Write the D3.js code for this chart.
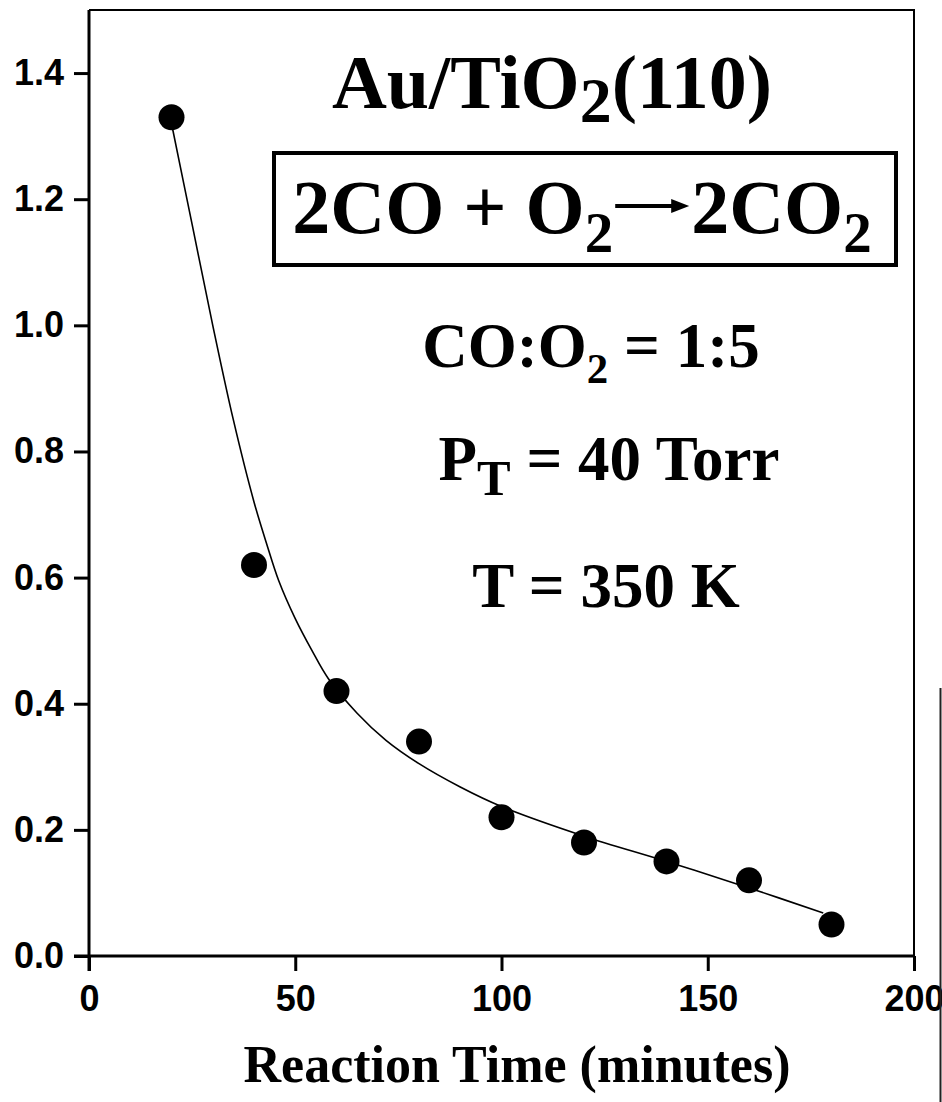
<!DOCTYPE html>
<html>
<head>
<meta charset="utf-8">
<script src="https://cdn.jsdelivr.net/npm/d3@7"></script>
<style>
  html, body { margin: 0; padding: 0; background: #fff; overflow: hidden; }
  svg { display: block; }
</style>
</head>
<body>
<div id="chart"></div>
<script>
// measured points
var timeMin = [20, 40, 60, 80, 100, 120, 140, 160, 180];
var rate = [1.33, 0.62, 0.42, 0.34, 0.22, 0.18, 0.15, 0.12, 0.05];

// fitted curve
var fitTime = [20, 25, 30, 35, 40, 43, 46, 50, 54, 58, 65, 72, 80, 90, 100, 120, 140, 160, 178];
var fitRate = [1.32, 1.16, 1.0, 0.85, 0.72, 0.655, 0.595, 0.535, 0.485, 0.44, 0.385, 0.342, 0.305, 0.268, 0.237, 0.19, 0.15, 0.108, 0.068];

var xTicks = [0, 50, 100, 150, 200];
var yTicks = [0, 0.2, 0.4, 0.6, 0.8, 1.0, 1.2, 1.4];

(function () {
    var W = 942, H = 1102;
    var p = {left: 89, right: 914, top: 10, bottom: 956, tick: 15};
    var serif = "'Liberation Serif', 'Times New Roman', serif";
    var sans = "'Liberation Sans', Arial, sans-serif";

    var svg = d3.select("#chart").append("svg").attr("width", W).attr("height", H);

    var x = d3.scaleLinear().domain([0, 200]).range([p.left, p.right]);
    var y = d3.scaleLinear().domain([0, 1.5]).range([p.bottom, p.top]);

    // frame top + right
    svg.append("path")
        .attr("d", "M" + p.left + "," + p.top + "H" + p.right + "V" + (p.bottom + p.tick))
        .attr("fill", "none").attr("stroke", "#000").attr("stroke-width", 2);

    var xa = svg.append("g").attr("transform", "translate(0," + p.bottom + ")")
        .call(d3.axisBottom(x).tickValues(xTicks).tickSize(p.tick).tickSizeOuter(0).tickPadding(14).tickFormat(d3.format("d")));
    var ya = svg.append("g").attr("transform", "translate(" + p.left + ",0)")
        .call(d3.axisLeft(y).tickValues(yTicks).tickSize(p.tick).tickSizeOuter(0).tickPadding(10).tickFormat(d3.format(".1f")));

    [xa, ya].forEach(function (a) {
        a.select(".domain").attr("stroke", "#000").attr("stroke-width", 3);
        a.selectAll(".tick line").attr("stroke", "#000").attr("stroke-width", 3);
        a.selectAll(".tick text").attr("fill", "#000").attr("font-family", sans)
            .attr("font-weight", "bold").attr("font-size", "36px");
    });
    // axis lines run on to meet the outer ticks at the origin
    xa.select(".domain").attr("d", "M" + (p.left - p.tick) + ",0H" + p.right);
    ya.select(".domain").attr("d", "M0," + p.top + "V" + (p.bottom + p.tick));

    // fit line
    var line = d3.line().x(function (d) { return x(d[0]); }).y(function (d) { return y(d[1]); })
        .curve(d3.curveCatmullRom.alpha(0.5));
    svg.append("path").datum(fitTime.map(function (t, i) { return [t, fitRate[i]]; }))
        .attr("d", line).attr("fill", "none").attr("stroke", "#000").attr("stroke-width", 1.6);

    // dots
    svg.selectAll("circle.pt").data(timeMin).enter().append("circle")
        .attr("class", "pt")
        .attr("cx", function (d) { return x(d); })
        .attr("cy", function (d, i) { return y(rate[i]); })
        .attr("r", 13).attr("fill", "#000");

    // text with subscripts, parts = [[str, isSub], ...]
    function richText(g, parts, fs, subScale, subDrop, anchor) {
        var t = g.append("text").attr("font-family", serif).attr("font-weight", "bold")
            .attr("font-size", fs + "px").attr("fill", "#000").attr("text-anchor", anchor || "middle");
        var down = 0;
        parts.forEach(function (pt) {
            var s = t.append("tspan").text(pt[0]);
            if (pt[1]) {
                s.attr("font-size", (fs * subScale) + "px").attr("dy", subDrop);
                down = subDrop;
            } else if (down) {
                s.attr("dy", -down);
                down = 0;
            }
        });
        return t;
    }

    // title
    richText(svg, [["Au/TiO", 0], ["2", 1], ["(110)", 0]], 76, 0.84, 14)
        .attr("x", 552).attr("y", 108);

    // reaction box
    svg.append("rect").attr("x", 274).attr("y", 153).attr("width", 622).attr("height", 112)
        .attr("fill", "none").attr("stroke", "#000").attr("stroke-width", 4);

    var eq = svg.append("g");
    var t1 = richText(eq, [["2CO + O", 0], ["2", 1]], 76, 0.75, 19, "start").attr("y", 233);
    var t2 = richText(eq, [["2CO", 0], ["2", 1]], 76, 0.75, 19, "start").attr("y", 233);
    var w1 = t1.node().getComputedTextLength(), w2 = t2.node().getComputedTextLength();
    var arrowLen = 74, gap = 2;
    var total = w1 + gap + arrowLen + gap + w2;
    var x0 = 582 - total / 2;
    t1.attr("x", x0);
    var ax = x0 + w1 + gap, ay = 206;
    eq.append("line").attr("x1", ax).attr("x2", ax + arrowLen - 14).attr("y1", ay).attr("y2", ay)
        .attr("stroke", "#000").attr("stroke-width", 4);
    eq.append("path")
        .attr("d", "M" + (ax + arrowLen) + "," + ay + "L" + (ax + arrowLen - 18) + "," + (ay - 7) +
            "L" + (ax + arrowLen - 18) + "," + (ay + 7) + "Z")
        .attr("fill", "#000");
    t2.attr("x", ax + arrowLen + gap);

    // conditions
    richText(svg, [["CO:O", 0], ["2", 1], [" = 1:5", 0]], 63, 0.68, 16).attr("x", 591).attr("y", 367);
    richText(svg, [["P", 0], ["T", 1], [" = 40 Torr", 0]], 63, 0.8, 15).attr("x", 609).attr("y", 480);
    richText(svg, [["T = 350 K", 0]], 63, 1, 0).attr("x", 606).attr("y", 607);

    // x title
    svg.append("text").attr("x", 517).attr("y", 1082).attr("text-anchor", "middle")
        .attr("font-family", serif).attr("font-weight", "bold").attr("font-size", "52px")
        .text("Reaction Time (minutes)");

    // edge of the neighbouring panel
    svg.append("line").attr("x1", 940.5).attr("x2", 940.5).attr("y1", 688).attr("y2", H)
        .attr("stroke", "#222").attr("stroke-width", 2);
})();
</script>
</body>
</html>
